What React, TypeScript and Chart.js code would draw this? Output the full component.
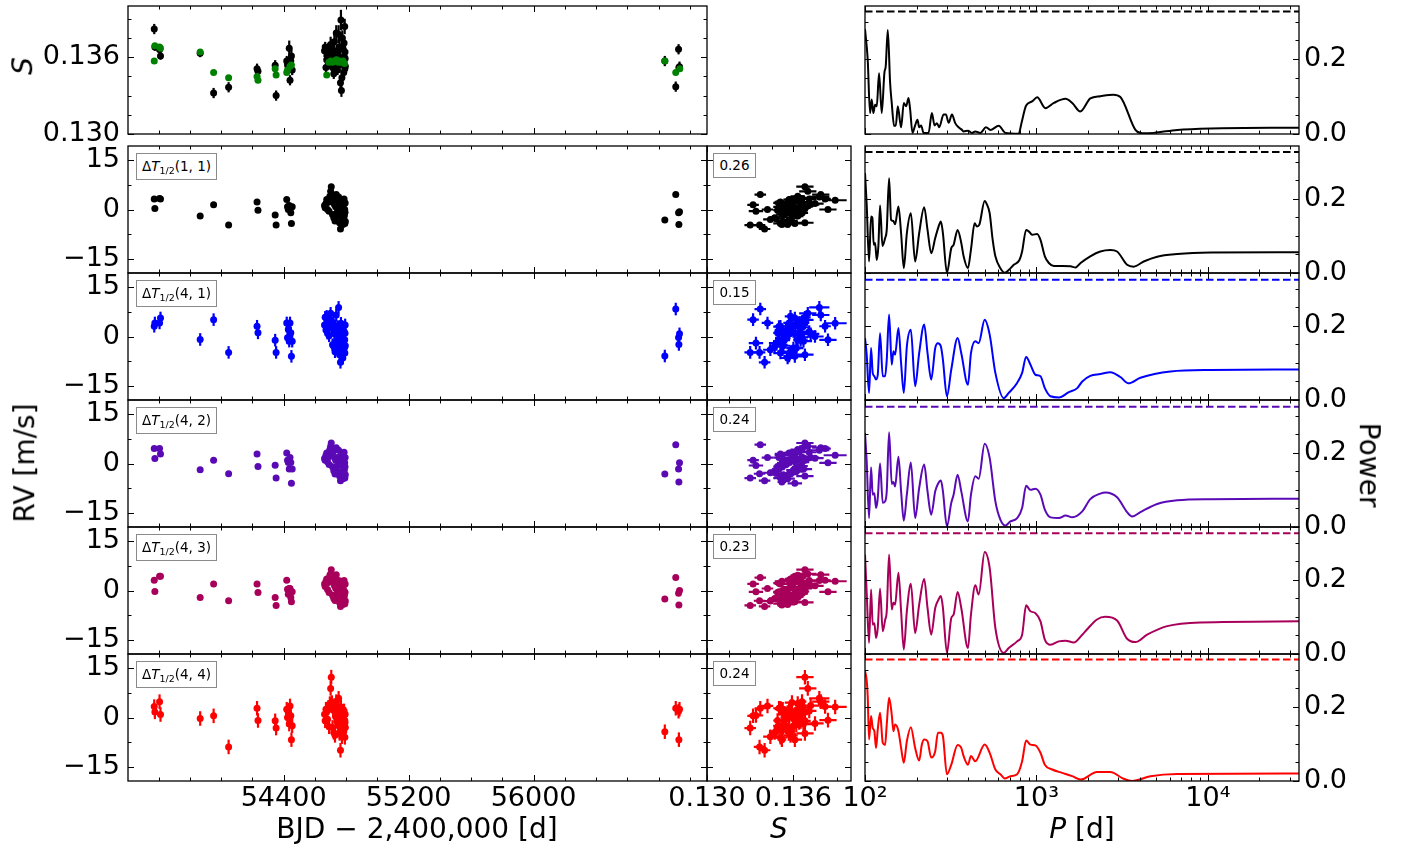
import React, { useEffect, useRef } from "react";
import { Chart, registerables } from "chart.js";

Chart.register(...registerables);

const FONT = "'DejaVu Sans', 'Liberation Sans', Arial, sans-serif";

// ---------- observations (BJD - 2,400,000) ----------
const epochs = [
  53572, 53576, 53606, 53612, 53866, 53952, 54048, 54230, 54236, 54346, 54352,
  54420, 54425, 54430, 54436, 54441, 54446, 54450, 54455,
  54662, 54666, 54671, 54676, 54681, 54686, 54691, 54696, 54701, 54705,
  54709, 54713, 54717, 54721, 54725, 54729, 54733, 54737, 54741, 54745,
  54749, 54752, 54755, 54758, 54761, 54764, 54767, 54770, 54773, 54776,
  54779, 54782, 54785, 54787, 54789, 54791, 54792, 54793, 54794, 54795,
  56840, 56910, 56928, 56930, 56934,
];

// S-index (black) and its uncertainty
const sIndex = [
  0.1382, 0.1368, 0.1366, 0.1361, 0.1363, 0.1332, 0.13365, 0.1351, 0.1349, 0.13537, 0.133,
  0.1357, 0.1354, 0.1356, 0.1367, 0.1342, 0.1357, 0.1361, 0.135,
  0.1365, 0.1368, 0.1352, 0.1358, 0.1361, 0.1366, 0.1355, 0.1363, 0.137, 0.1368,
  0.1359, 0.1352, 0.1364, 0.1347, 0.1372, 0.1358, 0.1357, 0.1379, 0.1365, 0.135,
  0.1362, 0.1378, 0.1354, 0.1368, 0.136, 0.134, 0.1389, 0.1334, 0.1344, 0.1375,
  0.1356, 0.1366, 0.1348, 0.1371, 0.136, 0.1384, 0.1351, 0.1364, 0.1359, 0.1353,
  0.1357, 0.1337, 0.13662, 0.1352, 0.13526,
];
const sIndexErr = [
  0.0004, 0.0003, 0.0003, 0.0003, 0.0003, 0.0004, 0.0004, 0.0004, 0.0003, 0.0004, 0.0004,
  0.0004, 0.0003, 0.0004, 0.0006, 0.0004, 0.0003, 0.0005, 0.0004,
  0.0005, 0.0004, 0.0005, 0.0004, 0.0005, 0.0005, 0.0004, 0.0005, 0.0006, 0.0006,
  0.0005, 0.0004, 0.0005, 0.0004, 0.0006, 0.0005, 0.0005, 0.0006, 0.0005, 0.0004,
  0.0005, 0.0007, 0.0004, 0.0006, 0.0005, 0.0004, 0.0008, 0.0005, 0.0005, 0.0006,
  0.0005, 0.0005, 0.0005, 0.0005, 0.0005, 0.0006, 0.0005, 0.0005, 0.0005, 0.0005,
  0.0004, 0.0004, 0.0004, 0.0003, 0.0004,
];

// second S-index series (green)
const sAltEpochs = [
  53572, 53576, 53606, 53612, 53866, 53952, 54048, 54230, 54236, 54346,
  54352, 54420, 54425, 54441, 54450, 54676, 54690, 54702, 54714, 54726,
  54738, 54750, 54760, 54770, 54780, 54790, 56840, 56910, 56936,
];
const sAlt = [
  0.1357, 0.1369, 0.1368, 0.1367, 0.1364, 0.1348, 0.1344, 0.1345, 0.1342, 0.1351,
  0.1346, 0.1348, 0.135, 0.1353, 0.1354, 0.1346, 0.1356, 0.1357, 0.1356, 0.1357,
  0.1358, 0.1356, 0.1357, 0.1356, 0.1357, 0.1355, 0.1357, 0.1348, 0.1351,
];

// radial velocities [m/s] for the five ΔT1/2 selections
const rv11 = [
  3.2, 0.3, 3.3, 3.2, -2.0, 1.4, -4.7, 2.3, -0.2, -1.7, -4.7,
  3.0, 0.8, 0.0, 1.2, 0.0, -1.0, -4.2, 0.8,
  1.2, 0.5, 1.8, 3.0, 0.0, 2.2, -0.5, 4.0, 5.5, 6.9,
  2.5, -1.5, 3.5, -2.5, 1.5, -3.5, 0.8, 4.5, -1.0, 2.0,
  -2.0, 3.8, 0.2, -4.0, 1.0, -5.9, 2.8, -0.5, -3.0, 1.8,
  -4.5, 0.5, -2.8, 3.2, -1.8, 0.0, -4.2, -0.8, 2.0, -3.6,
  -3.2, 4.5, -1.0, -4.5, -0.7,
];
const rv41 = [
  3.1, 4.1, 4.1, 5.6, -0.9, 5.1, -4.8, 3.1, 1.1, -1.1, -4.8,
  4.1, -0.4, 2.1, -1.4, 4.1, 1.1, -6.0, -1.4,
  3.5, 5.8, 2.0, 6.1, 1.0, 4.5, 0.2, 3.8, 7.0, 5.0,
  2.6, -2.5, 4.2, -3.0, 0.8, -4.6, 2.0, 6.5, -1.2, 3.0,
  -3.5, 8.8, -0.5, -5.5, 1.5, -7.8, 4.0, -2.0, -4.0, 0.0,
  -6.5, 2.8, -2.0, 1.5, -3.5, -1.0, -5.0, 1.0, 3.5, -2.8,
  -5.9, 8.3, -0.3, -2.4, 0.8,
];
const rv42 = [
  4.5, 1.5, 4.5, 2.9, -1.9, 1.0, -3.1, 2.9, -0.9, -0.5, -4.4,
  3.2, 1.0, 0.3, -1.7, 1.8, 0.3, -6.0, -1.7,
  1.5, 1.0, 2.5, 3.2, 0.5, 2.0, -0.3, 4.2, 5.2, 6.2,
  3.0, -1.0, 3.6, -2.2, 1.8, -3.2, 1.0, 4.8, -0.8, 1.8,
  -2.4, 4.0, 0.5, -3.8, 1.2, -5.2, 2.5, -0.6, -2.8, 1.6,
  -4.6, 0.4, -3.0, 3.4, -2.0, 0.2, -4.4, -1.0, 1.8, -3.4,
  -3.2, 5.7, -1.7, -5.6, 0.2,
];
const rv43 = [
  3.1, -0.3, 4.3, 4.3, -2.1, 2.0, -3.1, 2.0, -0.6, -2.1, -4.5,
  3.1, 0.4, -1.1, 0.6, 0.6, -2.1, -3.4, -0.4,
  2.0, 1.2, 2.8, 3.5, 0.3, 2.4, -0.6, 4.6, 5.0, 6.3,
  2.9, -1.4, 3.9, -2.4, 1.5, -3.0, 0.7, 4.8, -0.9, 2.2,
  -1.9, 3.0, 0.0, -3.6, 1.0, -4.8, 2.8, -0.4, -3.2, 1.4,
  -4.2, 0.6, -2.6, 3.0, -1.6, -0.4, -4.0, -0.6, 2.0, -3.2,
  -2.6, 3.9, -0.8, -4.4, 0.0,
];
const rv44 = [
  3.3, 1.7, 4.8, 0.9, -0.3, 0.5, -8.9, 2.8, -0.9, -1.0, -3.2,
  2.5, 0.0, 1.5, -2.0, 3.5, 0.5, -6.7, -2.5,
  1.0, -1.0, 2.5, 1.8, -0.5, 3.0, -2.8, 4.2, 8.8, 12.2,
  4.5, -3.0, 2.2, -4.5, 3.6, -5.4, 0.2, 4.8, -1.2, 2.8,
  -2.2, 5.8, 1.2, -4.8, -0.3, -9.9, 3.2, 0.6, -5.8, -1.8,
  -3.8, 1.4, -4.2, 2.0, -2.6, -0.8, -6.0, -1.5, 1.0, -3.0,
  -4.3, 2.8, 1.9, -6.7, 2.5,
];
const rvErr = [0.6, 1.9, 0.6, 0.6, 2.2];
const rvSeries = [rv11, rv41, rv42, rv43, rv44];
const rowTags = ["(1, 1)", "(4, 1)", "(4, 2)", "(4, 3)", "(4, 4)"];
const rowColors = ["#000000", "#0000ff", "#5a0ab4", "#a8005a", "#ff0000"];
const corrLabels = ["0.26", "0.15", "0.24", "0.23", "0.24"];

// ---------- periodograms: [period (d), power] ----------
const pgramS: [number, number][] = [
  [100, 0.28], [103.7, 0.199], [107, 0.056], [109.4, 0.092], [111.9, 0.056], [114.5, 0.078],
  [117.1, 0.074], [120.8, 0.162], [125.2, 0.056], [129.8, 0.164], [132.1, 0.181], [135.8, 0.278],
  [140.1, 0.137], [143.2, 0.083], [147.8, 0.022], [151.2, 0.022], [155.3, 0.074], [162.4, 0.018],
  [168.4, 0.083], [173.8, 0.074], [179.4, 0.096], [183.4, 0.065], [189.2, 0.003], [196.1, 0.023],
  [202.4, 0.038], [207, 0.018], [212.6, 0.023], [219.5, 0.003], [234.8, 0.003], [245.5, 0.056],
  [254.4, 0.023], [262.6, 0.029], [271, 0.018], [287.3, 0.052], [296.5, 0.052], [307.4, 0.03],
  [321.4, 0.052], [336.1, 0.029], [351.6, 0.018], [367.7, 0.011], [376, 0.007], [398.6, 0.009],
  [420.7, 0.003], [440, 0.007], [470.7, 0.003], [508, 0.018], [538.5, 0.011], [602.6, 0.022],
  [659.1, 0.003], [788.8, 0.001], [817.6, 0.029], [870.7, 0.076], [943.9, 0.087], [1009.5, 0.098],
  [1129.4, 0.069], [1263.7, 0.083], [1478.5, 0.094], [1617.6, 0.083], [1801, 0.06], [2061, 0.095],
  [2358, 0.101], [2809, 0.105], [3087, 0.099], [3778, 0.011], [4134, 0.002], [4833, 0.003],
  [6625, 0.011], [10371, 0.015], [34000, 0.017],
];
const pgram11: [number, number][] = [
  [100, 0.269], [102.3, 0.184], [105.6, 0.031], [108.5, 0.152], [110.4, 0.149], [112.4, 0.076],
  [114.5, 0.081], [117.1, 0.035], [119.7, 0.073], [122.4, 0.182], [126.4, 0.073], [131, 0.094],
  [133.9, 0.116], [138.2, 0.255], [142, 0.143], [146.5, 0.14], [149.8, 0.131], [156.7, 0.179],
  [162.4, 0.107], [168.4, 0.013], [175.4, 0.107], [185.1, 0.161], [196.1, 0.031], [207, 0.107],
  [221.4, 0.177], [231.6, 0.116], [243.3, 0.053], [256.8, 0.094], [268.6, 0.125], [277.2, 0.139],
  [284.8, 0.107], [300.5, 0.0], [318.6, 0.067], [328.7, 0.076], [346.9, 0.116], [364.4, 0.081],
  [376, 0.045], [398.6, 0.013], [415, 0.063], [436.1, 0.134], [450, 0.125], [464.4, 0.13],
  [498.9, 0.194], [514.8, 0.184], [533.6, 0.161], [555.6, 0.089], [576, 0.045], [616.1, 0.013],
  [653.2, 0.001], [689.4, 0.008], [737.4, 0.022], [795.9, 0.035], [825, 0.058], [870.7, 0.116],
  [902.6, 0.112], [943.9, 0.103], [1009.5, 0.105], [1055.8, 0.089], [1119.4, 0.045], [1181.3, 0.027],
  [1263.7, 0.019], [1413.5, 0.019], [1581.5, 0.018], [1691.8, 0.015], [1809.4, 0.027], [2061, 0.045],
  [2358, 0.058], [2698, 0.062], [2953, 0.058], [3379, 0.022], [3693, 0.017], [4224, 0.031],
  [5060, 0.044], [6625, 0.051], [10371, 0.055], [34000, 0.056],
];
const pgram41: [number, number][] = [
  [100, 0.167], [102.3, 0.122], [105.6, 0.019], [108.5, 0.14], [110.9, 0.073], [113.4, 0.064],
  [116, 0.055], [118.7, 0.068], [122.4, 0.18], [126.9, 0.064], [131, 0.064], [133.9, 0.108],
  [138.2, 0.23], [143.2, 0.095], [146.5, 0.131], [149.8, 0.122], [156.7, 0.194], [162.4, 0.099],
  [168.4, 0.019], [175.4, 0.144], [185.1, 0.189], [196.1, 0.037], [207, 0.126], [221.4, 0.203],
  [231.6, 0.126], [243.3, 0.055], [256.8, 0.14], [266.2, 0.153], [277.2, 0.144], [284.8, 0.108],
  [300.5, 0.01], [318.6, 0.082], [346.9, 0.167], [364.4, 0.126], [398.6, 0.041], [415, 0.126],
  [440, 0.158], [460.3, 0.153], [498.9, 0.216], [533.6, 0.176], [576, 0.073], [644.5, 0.005],
  [689.4, 0.019], [771.3, 0.046], [825, 0.073], [870.7, 0.116], [923, 0.095], [987, 0.068],
  [1055.8, 0.064], [1119.4, 0.032], [1208.2, 0.01], [1351.4, 0.007], [1546.4, 0.021], [1729.9, 0.032],
  [1850.4, 0.05], [2061, 0.065], [2358, 0.07], [2698, 0.075], [3087, 0.062], [3439, 0.045],
  [4041, 0.06], [6052, 0.077], [10371, 0.081], [34000, 0.082],
];
const pgram42: [number, number][] = [
  [100, 0.253], [102.3, 0.177], [105.6, 0.024], [108.5, 0.161], [110.9, 0.087], [113.4, 0.091],
  [116, 0.051], [118.7, 0.078], [122.4, 0.171], [126.9, 0.065], [131, 0.069], [133.9, 0.096],
  [138.2, 0.255], [143.2, 0.116], [146.5, 0.121], [149.8, 0.109], [156.7, 0.189], [162.4, 0.096],
  [168.4, 0.017], [175.4, 0.087], [185.1, 0.174], [196.1, 0.024], [207, 0.105], [221.4, 0.168],
  [231.6, 0.096], [243.3, 0.033], [256.8, 0.096], [266.2, 0.116], [277.2, 0.125], [284.8, 0.096],
  [300.5, 0.002], [318.6, 0.065], [328.7, 0.087], [346.9, 0.141], [364.4, 0.096], [398.6, 0.015],
  [415, 0.087], [440, 0.137], [460.3, 0.13], [498.9, 0.224], [533.6, 0.186], [576, 0.069],
  [616.1, 0.02], [659.1, 0.004], [705, 0.015], [771.3, 0.024], [825, 0.051], [870.7, 0.111],
  [923, 0.1], [987, 0.103], [1055.8, 0.087], [1119.4, 0.047], [1208.2, 0.026], [1351.4, 0.024],
  [1478.5, 0.031], [1617.6, 0.026], [1850.4, 0.042], [2061, 0.075], [2358, 0.09], [2522, 0.093],
  [2953, 0.08], [3379, 0.04], [3614, 0.028], [4041, 0.04], [5060, 0.062], [6625, 0.072],
  [10371, 0.075], [34000, 0.076],
];
const pgram43: [number, number][] = [
  [100, 0.268], [102.3, 0.165], [105.6, 0.03], [108.5, 0.174], [110.9, 0.079], [113.4, 0.083],
  [116, 0.043], [118.7, 0.07], [122.4, 0.176], [126.9, 0.061], [131, 0.092], [133.9, 0.115],
  [138.2, 0.268], [143.2, 0.12], [146.5, 0.138], [149.8, 0.133], [156.7, 0.219], [162.4, 0.115],
  [168.4, 0.012], [175.4, 0.115], [185.1, 0.189], [196.1, 0.056], [207, 0.133], [221.4, 0.202],
  [231.6, 0.124], [243.3, 0.052], [256.8, 0.124], [266.2, 0.143], [277.2, 0.156], [284.8, 0.124],
  [300.5, 0.003], [318.6, 0.097], [328.7, 0.106], [346.9, 0.167], [364.4, 0.124], [398.6, 0.016],
  [415, 0.106], [440, 0.185], [460.3, 0.16], [498.9, 0.275], [533.6, 0.232], [576, 0.07],
  [644.5, 0.003], [689.4, 0.016], [771.3, 0.034], [825, 0.052], [870.7, 0.131], [923, 0.115],
  [987, 0.11], [1055.8, 0.088], [1119.4, 0.039], [1208, 0.025], [1351, 0.034], [1478, 0.036],
  [1650, 0.031], [1850, 0.052], [1971, 0.066], [2255, 0.093], [2522, 0.1], [2953, 0.09],
  [3379, 0.041], [3778, 0.032], [4423, 0.052], [5789, 0.075], [9065, 0.085], [34000, 0.088],
];
const pgram44: [number, number][] = [
  [100, 0.296], [102.3, 0.271], [103.7, 0.229], [105.6, 0.112], [108.5, 0.175], [110.9, 0.143],
  [113.4, 0.134], [116, 0.089], [118.7, 0.139], [122.4, 0.184], [126.9, 0.103], [131, 0.097],
  [133.9, 0.152], [138.2, 0.224], [143.2, 0.179], [146.5, 0.134], [149.8, 0.152], [156.7, 0.134],
  [162.4, 0.089], [168.4, 0.049], [175.4, 0.107], [185.1, 0.145], [196.1, 0.089], [207, 0.055],
  [214.6, 0.098], [221.4, 0.112], [231.6, 0.107], [243.3, 0.063], [256.8, 0.08], [266.2, 0.13],
  [277.2, 0.13], [284.8, 0.121], [300.5, 0.018], [318.6, 0.044], [346.9, 0.097], [364.4, 0.089],
  [376, 0.067], [398.6, 0.044], [415, 0.067], [440, 0.053], [498.9, 0.098], [533.6, 0.076],
  [576, 0.031], [616.1, 0.018], [653.2, 0.007], [705, 0.013], [771.3, 0.018], [825, 0.053],
  [870.7, 0.109], [923, 0.098], [987, 0.096], [1055.8, 0.076], [1119.4, 0.044], [1235.5, 0.031],
  [1413.5, 0.022], [1617.6, 0.013], [1809, 0.004], [2255, 0.024], [2698, 0.024], [3228, 0.006],
  [3614, 0.0], [4623, 0.013], [6625, 0.019], [34000, 0.02],
];
const pgrams = [pgramS, pgram11, pgram41, pgram42, pgram43, pgram44];
const pgramColors = ["#000000", ...rowColors];
const fapLevels = [0.327, 0.326, 0.324, 0.324, 0.325, 0.327];

// ---------- tick positions ----------
const timeTicks = [53600, 53800, 54000, 54200, 54400, 54600, 54800, 55000, 55200, 55400, 55600, 55800, 56000, 56200, 56400, 56600, 56800, 57000];
const timeMajors = [54400, 55200, 56000];
const sTicks = [0.13, 0.1315, 0.133, 0.1345, 0.136, 0.1375, 0.139];
const sMajors = [0.13, 0.136];
const rvTicks = [-15, -7.5, 0, 7.5, 15];
const rvMajors = [-15, 0, 15];
const powerTicks = [0, 0.05, 0.1, 0.15, 0.2, 0.25, 0.3];
const powerMajors = [0, 0.2];
const periodTicks = [100, 200, 300, 400, 500, 600, 700, 800, 900, 1000, 2000, 3000, 4000, 5000, 6000, 7000, 8000, 9000, 10000, 20000, 30000];
const periodMajors = [100, 1000, 10000];

type AxisSpec = {
  type: "linear" | "logarithmic";
  min: number;
  max: number;
  ticks: number[];
  majors: number[];
  fmt: (v: number) => string;
};

const near = (a: number, b: number) => Math.abs(a - b) <= 1e-9 * Math.max(1, Math.abs(b));
const isMajor = (spec: AxisSpec, v: number) => spec.majors.some((m) => near(v, m));
const SUP: Record<number, string> = { 2: "\u00b2", 3: "\u00b3", 4: "\u2074" };

const timeAxis: AxisSpec = { type: "linear", min: 53404, max: 57110, ticks: timeTicks, majors: timeMajors, fmt: (v) => String(v) };
const sAxis: AxisSpec = { type: "linear", min: 0.13, max: 0.14, ticks: sTicks, majors: sMajors, fmt: (v) => v.toFixed(3) };
const rvAxis: AxisSpec = {
  type: "linear", min: -19.2, max: 19.2, ticks: rvTicks, majors: rvMajors,
  fmt: (v) => (v < 0 ? "\u2212" + Math.abs(v) : String(v)),
};
const powerAxis: AxisSpec = { type: "linear", min: 0, max: 0.342, ticks: powerTicks, majors: powerMajors, fmt: (v) => v.toFixed(1) };
const periodAxis: AxisSpec = {
  type: "logarithmic", min: 100, max: 34000, ticks: periodTicks, majors: periodMajors,
  fmt: (v) => "10" + SUP[Math.round(Math.log10(v))],
};

// ---------- geometry of the panel grid ----------
const COL = [
  { left: 128, width: 579 },
  { left: 707, width: 144 },
  { left: 865, width: 434 },
];
const ROW = [
  { top: 6, height: 128 },
  { top: 146, height: 127 },
  { top: 273, height: 127 },
  { top: 400, height: 127 },
  { top: 527, height: 127 },
  { top: 654, height: 127 },
];
const M = { l: 140, r: 95, t: 30, b: 65 };
const Y_LEFT_W = 110;
const Y_RIGHT_W = 75;
const X_H = 55;

// inward ticks on all four sides plus the frame
const frameTicks = {
  id: "frameTicks",
  afterDraw(chart: any) {
    const { ctx, chartArea: a } = chart;
    ctx.save();
    ctx.strokeStyle = "#000";
    ctx.lineWidth = 1;
    for (const id of Object.keys(chart.scales)) {
      const s = chart.scales[id];
      for (const t of s.ticks) {
        const p = s.getPixelForValue(t.value);
        const len = t.major ? 6 : 3.5;
        if (s.isHorizontal()) {
          if (p < a.left - 0.5 || p > a.right + 0.5) continue;
          const x = Math.round(p) + 0.5;
          ctx.beginPath();
          ctx.moveTo(x, a.bottom);
          ctx.lineTo(x, a.bottom - len);
          ctx.moveTo(x, a.top);
          ctx.lineTo(x, a.top + len);
          ctx.stroke();
        } else {
          if (p < a.top - 0.5 || p > a.bottom + 0.5) continue;
          const y = Math.round(p) + 0.5;
          ctx.beginPath();
          ctx.moveTo(a.left, y);
          ctx.lineTo(a.left + len, y);
          ctx.moveTo(a.right, y);
          ctx.lineTo(a.right - len, y);
          ctx.stroke();
        }
      }
    }
    ctx.lineWidth = 1.3;
    ctx.strokeRect(a.left, a.top, a.right - a.left, a.bottom - a.top);
    ctx.restore();
  },
};

// symmetric error bars drawn under the markers
const errorBars = {
  id: "errorBars",
  beforeDatasetsDraw(chart: any) {
    const { ctx } = chart;
    const xs = chart.scales.x;
    const ys = chart.scales.y;
    ctx.save();
    ctx.beginPath();
    ctx.rect(chart.chartArea.left, chart.chartArea.top, chart.chartArea.right - chart.chartArea.left, chart.chartArea.bottom - chart.chartArea.top);
    ctx.clip();
    chart.data.datasets.forEach((ds: any) => {
      const eb = ds.errorBars;
      if (!eb) return;
      ctx.strokeStyle = ds.backgroundColor;
      ctx.lineWidth = eb.width || 2;
      ds.data.forEach((pt: any, j: number) => {
        const px = xs.getPixelForValue(pt.x);
        const py = ys.getPixelForValue(pt.y);
        ctx.beginPath();
        if (eb.y != null) {
          const e = Array.isArray(eb.y) ? eb.y[j] : eb.y;
          ctx.moveTo(px, ys.getPixelForValue(pt.y - e));
          ctx.lineTo(px, ys.getPixelForValue(pt.y + e));
        }
        if (eb.x != null) {
          const e = Array.isArray(eb.x) ? eb.x[j] : eb.x;
          ctx.moveTo(xs.getPixelForValue(pt.x - e), py);
          ctx.lineTo(xs.getPixelForValue(pt.x + e), py);
        }
        ctx.stroke();
      });
    });
    ctx.restore();
  },
};

function axisOptions(spec: AxisSpec, position: string, labelled: boolean, size: number, pad: number) {
  const o: any = {
    type: spec.type,
    position,
    min: spec.min,
    max: spec.max,
    bounds: "data",
    display: labelled,
    grid: { display: false, drawTicks: false },
    border: { display: false },
    ticks: {
      autoSkip: false,
      maxRotation: 0,
      minRotation: 0,
      padding: pad,
      color: "#000",
      font: { family: FONT, size: 27 },
      callback: (v: number) => (isMajor(spec, v) ? spec.fmt(v) : ""),
    },
    afterBuildTicks: (s: any) => {
      s.ticks = spec.ticks.map((v) => ({ value: v, major: isMajor(spec, v) }));
    },
  };
  if (labelled) {
    o.afterFit = (s: any) => {
      if (s.isHorizontal()) s.height = size;
      else s.width = size;
    };
  }
  return o;
}

function makeConfig(datasets: any[], xSpec: AxisSpec, ySpec: AxisSpec, xLabels: boolean, yLabels: boolean, yPos: "left" | "right") {
  const padding = {
    left: yLabels && yPos === "left" ? M.l - Y_LEFT_W : M.l,
    right: yLabels && yPos === "right" ? M.r - Y_RIGHT_W : M.r,
    top: M.t,
    bottom: xLabels ? M.b - X_H : M.b,
  };
  return {
    type: "scatter",
    data: { datasets },
    options: {
      responsive: false,
      maintainAspectRatio: false,
      animation: false,
      devicePixelRatio: 1,
      events: [],
      layout: { padding },
      plugins: { legend: { display: false }, tooltip: { enabled: false } },
      scales: {
        x: axisOptions(xSpec, "bottom", xLabels, X_H, 2),
        y: axisOptions(ySpec, yPos, yLabels, yPos === "left" ? Y_LEFT_W : Y_RIGHT_W, yPos === "left" ? 8 : 5),
      },
    },
    plugins: [errorBars, frameTicks],
  };
}

function points(xs: number[], ys: number[], color: string, errs: any, order = 0) {
  return {
    data: xs.map((x, i) => ({ x, y: ys[i] })),
    backgroundColor: color,
    borderColor: color,
    pointRadius: 3.5,
    pointHoverRadius: 3.5,
    pointBorderWidth: 0,
    showLine: false,
    order,
    errorBars: errs,
  };
}

function timeConfig(r: number, bottom: boolean) {
  if (r === 0) {
    // green series drawn above the black one (lower order = on top)
    return makeConfig(
      [
        points(epochs, sIndex, "#000000", { y: sIndexErr, width: 2.2 }, 2),
        points(sAltEpochs, sAlt, "#008000", null, 1),
      ],
      timeAxis, sAxis, bottom, true, "left"
    );
  }
  const k = r - 1;
  return makeConfig(
    [points(epochs, rvSeries[k], rowColors[k], { y: rvErr[k], width: 2.2 })],
    timeAxis, rvAxis, bottom, true, "left"
  );
}

function scatterConfig(k: number, bottom: boolean) {
  return makeConfig(
    [points(sIndex, rvSeries[k], rowColors[k], { x: sIndexErr, y: rvErr[k], width: 2.2 })],
    sAxis, rvAxis, bottom, false, "left"
  );
}

function pgramConfig(r: number, bottom: boolean) {
  const curve = pgrams[r];
  const color = pgramColors[r];
  return makeConfig(
    [
      {
        data: curve.map(([p, w]) => ({ x: p, y: w })),
        borderColor: color,
        backgroundColor: color,
        borderWidth: 2,
        pointRadius: 0,
        showLine: true,
        cubicInterpolationMode: "monotone",
      },
      {
        data: [
          { x: periodAxis.min, y: fapLevels[r] },
          { x: periodAxis.max, y: fapLevels[r] },
        ],
        borderColor: color,
        backgroundColor: color,
        borderWidth: 2,
        borderDash: [7.5, 3.5],
        pointRadius: 0,
        showLine: true,
      },
    ],
    periodAxis, powerAxis, bottom, true, "right"
  );
}

type Box = { left: number; top: number; width: number; height: number };

function PanelChart({ box, build }: { box: Box; build: () => any }) {
  const ref = useRef<HTMLCanvasElement | null>(null);
  const w = box.width + M.l + M.r;
  const h = box.height + M.t + M.b;
  useEffect(() => {
    if (!ref.current) return;
    const chart = new Chart(ref.current, build());
    return () => chart.destroy();
  }, []);
  return (
    <canvas
      ref={ref}
      width={w}
      height={h}
      style={{ position: "absolute", left: box.left - M.l, top: box.top - M.t, width: w, height: h }}
    />
  );
}

const labelBox: React.CSSProperties = {
  position: "absolute",
  boxSizing: "border-box",
  border: "1.3px solid #8a8a8a",
  background: "#fff",
  display: "flex",
  alignItems: "center",
  justifyContent: "center",
  fontFamily: FONT,
  fontSize: 13.5,
  color: "#000",
  whiteSpace: "nowrap",
  lineHeight: 1,
};

const title: React.CSSProperties = {
  position: "absolute",
  fontFamily: FONT,
  fontSize: 28,
  color: "#000",
  whiteSpace: "nowrap",
  lineHeight: 1.2,
};

export default function App() {
  const panels: { key: string; box: Box; build: () => any }[] = [];
  for (let r = 0; r < 6; r++) {
    const row = ROW[r];
    const bottom = r === 5;
    panels.push({
      key: "t" + r,
      box: { left: COL[0].left, top: row.top, width: COL[0].width, height: row.height },
      build: () => timeConfig(r, bottom),
    });
    if (r > 0) {
      panels.push({
        key: "s" + r,
        box: { left: COL[1].left, top: row.top, width: COL[1].width, height: row.height },
        build: () => scatterConfig(r - 1, bottom),
      });
    }
    panels.push({
      key: "p" + r,
      box: { left: COL[2].left, top: row.top, width: COL[2].width, height: row.height },
      build: () => pgramConfig(r, bottom),
    });
  }

  return (
    <div style={{ position: "absolute", left: 0, top: 0, width: 1410, height: 852, overflow: "hidden", background: "#fff" }}>
      {panels.map((p) => (
        <PanelChart key={p.key} box={p.box} build={p.build} />
      ))}

      {rowTags.map((tag, k) => (
        <div key={"tag" + k} style={{ ...labelBox, left: COL[0].left + 8, top: ROW[k + 1].top + 7, width: 81, height: 27 }}>
          <span>
            Δ<i>T</i>
            <span style={{ fontSize: 9.5, position: "relative", top: 3 }}>1/2</span>
            {tag}
          </span>
        </div>
      ))}
      {corrLabels.map((c, k) => (
        <div key={"corr" + k} style={{ ...labelBox, left: COL[1].left + 6, top: ROW[k + 1].top + 7, width: 43, height: 25 }}>
          {c}
        </div>
      ))}

      <div style={{ ...title, left: 23, top: 66, transform: "translate(-50%, -50%) rotate(-90deg)", fontStyle: "italic" }}>S</div>
      <div style={{ ...title, left: 25, top: 463, transform: "translate(-50%, -50%) rotate(-90deg)" }}>RV [m/s]</div>
      <div style={{ ...title, left: 1369, top: 465, transform: "translate(-50%, -50%) rotate(90deg)" }}>Power</div>
      <div style={{ ...title, left: 417, top: 829, transform: "translate(-50%, -50%)" }}>BJD − 2,400,000 [d]</div>
      <div style={{ ...title, left: 779, top: 829, transform: "translate(-50%, -50%)", fontStyle: "italic" }}>S</div>
      <div style={{ ...title, left: 1082, top: 829, transform: "translate(-50%, -50%)" }}>
        <i>P</i> [d]
      </div>
    </div>
  );
}
